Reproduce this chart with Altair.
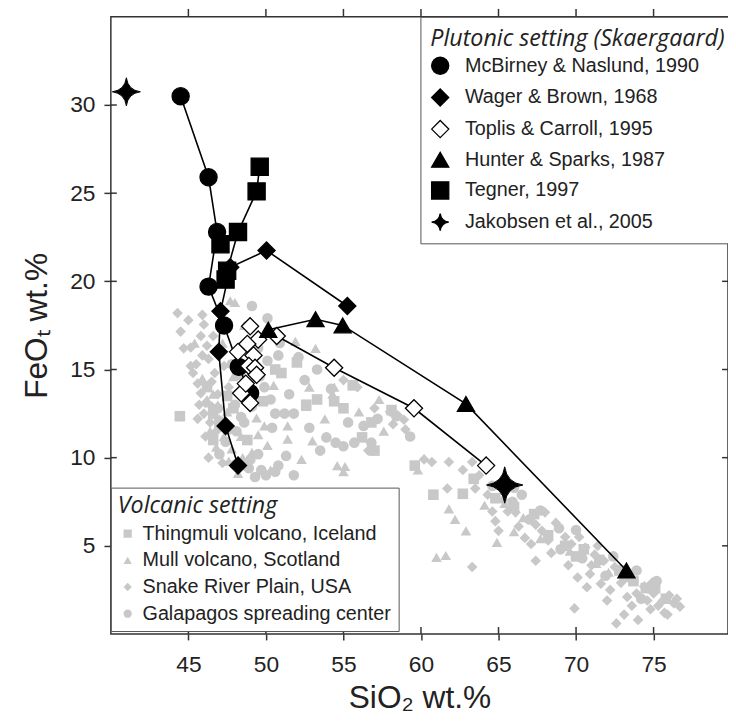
import altair as alt
import pandas as pd

GRAY = "#c8c8c8"

# ---------------- Volcanic setting (gray) ----------------
thingmuli = [(44.45, 12.35), (56.2, 11.15), (59.6, 9.55), (60.8, 7.9), (62.7, 7.95), (54.4, 13.2),
             (53.3, 13.3), (47.5, 13.5), (47.0, 12.0), (46.6, 11.0), (52.0, 15.4), (51.0, 14.8),
             (55.6, 14.1), (58.1, 12.7), (66.0, 7.2), (68.2, 5.6), (70.5, 4.8), (72.8, 3.6),
             (74.5, 2.6), (75.8, 2.0), (57.0, 10.4), (48.3, 14.7), (49.8, 13.2), (63.4, 8.8),
             (69.3, 5.0), (71.5, 4.2), (73.7, 3.0), (46.2, 14.0), (47.9, 12.8), (48.8, 11.0),
             (50.6, 15.0), (52.6, 13.0), (55.0, 12.8), (56.8, 12.0), (48.9, 14.2), (46.6, 12.5),
             (64.8, 7.7), (67.3, 6.8), (70.0, 4.4), (75.1, 2.6)]
mull = [(48.0, 18.8), (47.7, 18.9), (53.2, 16.2), (52.8, 14.0), (54.4, 14.0), (54.3, 13.6),
        (57.6, 11.5), (53.0, 10.95), (51.4, 11.05), (52.3, 9.9), (50.1, 10.7), (49.4, 12.25),
        (54.6, 9.55), (55.0, 9.2), (59.8, 9.3), (61.8, 7.1), (64.1, 7.3), (66.6, 6.6),
        (62.9, 5.85), (61.0, 4.35), (61.6, 4.45), (49.1, 10.3), (49.5, 11.3), (51.4, 11.8),
        (47.6, 9.8), (46.8, 10.6), (46.4, 11.5), (47.3, 11.2), (46.9, 13.0), (45.9, 14.5),
        (47.2, 16.5), (48.6, 17.5), (67.7, 5.4), (69.6, 4.7), (71.3, 4.0), (73.3, 3.2),
        (72.1, 3.5), (65.4, 7.4), (50.3, 9.3), (48.2, 9.1), (47.1, 11.8), (47.5, 12.6),
        (46.6, 13.6), (47.8, 10.5), (48.5, 10.0), (55.1, 9.5), (51.9, 16.6),
        (46.2, 13.3), (47.9, 14.6), (48.4, 11.2), (49.9, 11.8), (52.6, 12.9), (53.8, 12.2),
        (56.0, 12.6), (57.3, 13.3), (48.9, 16.7), (47.3, 17.7), (50.5, 14.1), (45.4, 16.5),
        (62.2, 6.5), (64.9, 5.2), (66.0, 5.8)]
snake = [(44.5, 17.15), (45.8, 16.9), (44.7, 16.2), (45.15, 16.25), (46.2, 16.35), (46.3, 15.6),
         (45.15, 15.2), (45.6, 14.2), (45.8, 13.65), (46.1, 13.1), (45.9, 18.1), (46.0, 17.55),
         (45.5, 15.3), (46.5, 12.9), (47.0, 12.15), (55.0, 14.4), (55.9, 14.0), (57.0, 12.8),
         (58.0, 12.6), (58.5, 12.4), (60.2, 9.9), (60.7, 9.75), (61.8, 9.75), (62.7, 9.3),
         (63.3, 9.75), (63.75, 9.0), (61.7, 8.25), (63.5, 8.25), (64.6, 6.95), (64.8, 6.4),
         (65.0, 5.85), (65.6, 6.95), (66.7, 5.45), (67.4, 6.2), (67.8, 5.85), (68.2, 5.3),
         (69.3, 5.5), (69.7, 5.1), (70.2, 5.5), (70.6, 4.9), (71.2, 4.5), (71.8, 4.15),
         (72.5, 3.8), (73.1, 3.25), (73.7, 3.05), (74.4, 2.7), (75.0, 2.3), (75.6, 1.9),
         (76.3, 1.75), (76.7, 1.55), (75.7, 1.2), (74.6, 1.9), (73.3, 2.1), (72.0, 1.9),
         (72.6, 0.6), (73.1, 1.1), (74.0, 0.8), (69.9, 1.45), (70.1, 3.2), (70.7, 2.65),
         (71.6, 2.85), (67.4, 4.15), (63.3, 3.8), (46.7, 14.8), (47.6, 14.0), (46.3, 10.0),
         (47.2, 9.7), (56.6, 10.4), (58.9, 12.15), (66.1, 6.9), (68.7, 6.3), (71.0, 3.9),
         (72.9, 2.9), (74.9, 2.9), (76.0, 2.2), (75.3, 1.6), (73.9, 2.3), (65.3, 7.6),
         (64.3, 7.9), (46.0, 12.5), (46.4, 12.0), (46.8, 11.5), (45.7, 13.0),
         (45.3, 14.8), (45.9, 15.8), (46.5, 14.3), (46.9, 13.6), (46.1, 11.2), (45.6, 12.2),
         (46.6, 16.9), (45.0, 17.8), (44.3, 18.2), (47.3, 15.2), (58.2, 11.9), (59.0, 11.6),
         (66.3, 6.1), (67.1, 5.1), (68.4, 4.6), (69.5, 3.9), (70.9, 3.4), (72.2, 2.5),
         (73.6, 1.6), (74.8, 1.4), (75.9, 1.1), (76.5, 2.0), (71.4, 5.0), (68.0, 6.9)]
galapagos = [(49.1, 18.6), (50.1, 17.9), (50.9, 16.5), (50.1, 15.5), (50.8, 15.8), (52.1, 15.7),
             (52.5, 14.4), (54.2, 13.9), (57.2, 12.2), (59.3, 11.2), (53.9, 11.15), (54.5, 10.85),
             (55.0, 10.65), (55.7, 10.85), (56.8, 10.85), (51.2, 12.5), (51.8, 12.5), (50.6, 12.5),
             (50.4, 11.7), (51.3, 10.1), (50.8, 9.55), (48.9, 9.4), (49.7, 9.3), (50.6, 9.2),
             (48.7, 9.55), (66.5, 7.9), (65.9, 7.5), (68.9, 6.0), (66.0, 8.3), (47.8, 15.3),
             (48.0, 13.0), (49.6, 14.6), (53.3, 15.0), (49.5, 16.2), (67.0, 6.5), (69.0, 4.8),
             (70.4, 4.3), (71.9, 3.3), (74.2, 2.0), (58.4, 12.35), (47.0, 10.2), (47.4, 10.9),
             (48.1, 11.5), (48.4, 12.3), (49.0, 9.9), (49.5, 10.2), (48.0, 9.6), (50.0, 9.0),
             (49.9, 14.0), (51.5, 13.6), (52.8, 11.7), (53.5, 10.4), (55.3, 12.0), (56.3, 11.8),
             (50.3, 13.3), (49.1, 12.9), (48.6, 12.0), (49.3, 8.9), (51.8, 9.0), (47.6, 11.6),
             (46.9, 12.8), (64.6, 8.4), (67.7, 7.0), (70.0, 5.9), (72.4, 4.4), (73.9, 3.6),
             (75.2, 3.0)]

volcanic_names = ["Thingmuli volcano, Iceland", "Mull volcano, Scotland",
                  "Snake River Plain, USA", "Galapagos spreading center"]
volcanic_sets = [thingmuli, mull, snake, galapagos]

# ---------------- Plutonic setting (Skaergaard) ----------------
mcbirney = [(44.5, 30.5), (46.3, 25.9), (46.85, 22.8), (46.3, 19.7), (47.3, 17.5), (48.25, 15.15), (48.98, 13.65)]
wager = [(48.2, 9.55), (47.4, 11.8), (46.96, 16.0), (47.07, 18.3), (47.7, 20.8), (50.04, 21.75), (55.25, 18.6)]
toplis = [(48.98, 17.45), (49.5, 16.7), (50.7, 16.9), (54.4, 15.1), (59.55, 12.8), (64.2, 9.55),
          (48.8, 16.45), (48.2, 16.0), (49.2, 15.8), (48.9, 15.2), (49.3, 15.1), (49.4, 14.7),
          (48.4, 13.65), (48.98, 13.1), (48.7, 14.2)]
toplis_line = [(50.7, 16.9), (54.4, 15.1), (59.55, 12.8), (64.2, 9.55)]
hunter = [(50.15, 17.25), (53.2, 17.85), (54.95, 17.5), (62.9, 13.05), (73.25, 3.6)]
tegner = [(49.6, 26.5), (49.4, 25.1), (48.2, 22.8), (47.07, 22.1), (47.5, 20.6), (47.4, 20.1)]
tegner_line = [(49.6, 26.5), (49.4, 25.1), (48.2, 22.8), (47.5, 20.6), (47.4, 20.1)]
jakobsen = [(41.0, 30.75), (65.4, 8.45)]

plutonic_names = ["McBirney & Naslund, 1990", "Wager & Brown, 1968", "Toplis & Carroll, 1995",
                  "Hunter & Sparks, 1987", "Tegner, 1997", "Jakobsen et al., 2005"]
STAR = "M0,-1 Q0.12,-0.12 1,0 Q0.12,0.12 0,1 Q-0.12,0.12 -1,0 Q-0.12,-0.12 0,-1 Z"
plutonic_shapes = ["circle", "diamond", "diamond", "triangle-up", "square", STAR]
plutonic_fills = ["black", "black", "white", "black", "black", "black"]
plutonic_strokes = ["black"] * 6

x_ticks = [45, 50, 55, 60, 65, 70, 75]
y_ticks = [5, 10, 15, 20, 25, 30]

# ---------------- tables ----------------
gray_df = pd.DataFrame([{"x": x, "y": y, "series": n}
                        for n, pts in zip(volcanic_names, volcanic_sets) for x, y in pts])
pts_df = pd.DataFrame([{"x": x, "y": y, "series": n}
                       for n, pts in zip(plutonic_names, [mcbirney, wager, toplis, hunter, tegner])
                       for x, y in pts])
star_df = pd.DataFrame([{"x": x, "y": y, "series": plutonic_names[5]} for x, y in jakobsen])
line_df = pd.DataFrame([{"x": x, "y": y, "series": n, "idx": i}
                        for n, pts in zip(plutonic_names, [mcbirney, wager, toplis_line, hunter, tegner_line])
                        for i, (x, y) in enumerate(pts)])
xt_df = pd.DataFrame({"x": x_ticks})
yt_df = pd.DataFrame({"y": y_ticks})

W, H = 624, 624
xscale = alt.Scale(domain=[40, 79.8], nice=False, zero=False)
yscale = alt.Scale(domain=[0, 35], nice=False, zero=False)
FONT = "Liberation Sans"
TFONT = "Open Sans"
INK = "#222222"

xaxis = alt.Axis(orient="bottom", values=x_ticks, tickSize=6, tickWidth=1.5, tickColor="#333",
                 domain=False, grid=False,
                 labelFont=FONT, labelFontSize=23, labelColor=INK, labelPadding=14, labelFlush=False,
                 title="SiO\u2082 wt.%", titleFont=FONT, titleFontSize=32, titleFontWeight="normal",
                 titleColor=INK, titlePadding=6)
yaxis = alt.Axis(orient="left", values=y_ticks, tickSize=7, tickWidth=1.5, tickColor="#333",
                 domain=False, grid=False,
                 labelFont=FONT, labelFontSize=23, labelColor=INK, labelPadding=9, labelFlush=False,
                 title="FeO\u209c wt.%", titleFont=FONT, titleFontSize=32, titleFontWeight="normal",
                 titleColor=INK, titlePadding=16)

X = alt.X("x:Q", scale=xscale, axis=xaxis)
Y = alt.Y("y:Q", scale=yscale, axis=yaxis)

vleg = alt.Legend(title="Volcanic setting", orient="none", legendX=0, legendY=476, direction="vertical",
                  titleFont=TFONT, titleFontStyle="italic", titleFontWeight="normal", titleFontSize=23.5,
                  titleColor=INK, labelFont=FONT, labelFontSize=20, labelColor=INK, symbolSize=70,
                  symbolFillColor=GRAY, symbolStrokeWidth=0, rowPadding=7.0, labelOffset=5,
                  padding=7, titlePadding=6, strokeColor="#555", fillColor="white",
                  titleLimit=400, labelLimit=400)
pleg = alt.Legend(title="Plutonic setting (Skaergaard)", orient="none", legendX=313, legendY=0,
                  direction="vertical", titleFont=TFONT, titleFontStyle="italic", titleFontWeight="normal",
                  titleFontSize=23.5, titleColor=INK, labelFont=FONT, labelFontSize=20, labelColor=INK,
                  symbolSize=300, symbolStrokeColor="black", symbolStrokeWidth=1.3, rowPadding=8,
                  labelOffset=15, padding=10, titlePadding=6, strokeColor="#555", fillColor="white",
                  titleLimit=400, labelLimit=400)

gray = alt.Chart(gray_df).mark_point(filled=True, size=115, color=GRAY, opacity=1).encode(
    x=X, y=Y,
    shape=alt.Shape("series:N", scale=alt.Scale(domain=volcanic_names,
                                                range=["square", "triangle-up", "diamond", "circle"]),
                    legend=vleg),
)

lines = alt.Chart(line_df).mark_line(color="black", strokeWidth=1.6).encode(
    x=X, y=Y, detail="series:N", order="idx:Q",
)

shape_enc = alt.Shape("series:N", scale=alt.Scale(domain=plutonic_names, range=plutonic_shapes), legend=pleg)
fill_enc = alt.Fill("series:N", scale=alt.Scale(domain=plutonic_names, range=plutonic_fills), legend=pleg)
stroke_enc = alt.Stroke("series:N", scale=alt.Scale(domain=plutonic_names, range=plutonic_strokes), legend=pleg)

pts = alt.Chart(pts_df).mark_point(filled=False, size=300, strokeWidth=1.3, opacity=1).encode(
    x=X, y=Y, shape=shape_enc, fill=fill_enc, stroke=stroke_enc,
)
star_small = alt.Chart(star_df).transform_filter(alt.datum.x < 50).mark_point(
    filled=False, size=800, strokeWidth=1, opacity=1).encode(
    x=X, y=Y, shape=shape_enc, fill=fill_enc, stroke=stroke_enc,
)
star_big = alt.Chart(star_df).transform_filter(alt.datum.x >= 50).mark_point(
    filled=False, size=1350, strokeWidth=1, opacity=1).encode(
    x=X, y=Y, shape=shape_enc, fill=fill_enc, stroke=stroke_enc,
)

plutonic = alt.layer(lines, pts, star_small, star_big)

tick_style = dict(color="#333", strokeWidth=1.5)
bx = alt.Chart(xt_df).mark_rule(**tick_style).encode(x=X, y=alt.value(H - 7), y2=alt.value(H))
tx = alt.Chart(xt_df).mark_rule(**tick_style).encode(x=X, y=alt.value(-8), y2=alt.value(0))
ly = alt.Chart(yt_df).mark_rule(**tick_style).encode(y=Y, x=alt.value(0), x2=alt.value(6))
ry = alt.Chart(yt_df).mark_rule(**tick_style).encode(y=Y, x=alt.value(W - 6), x2=alt.value(W))

chart = alt.layer(gray, plutonic, bx, tx, ly, ry).resolve_scale(
    shape="independent", fill="independent", stroke="independent"
).properties(
    width=W, height=H,
    autosize=alt.AutoSizeParams(type="none"),
    padding={"left": 104, "top": 5, "right": 0, "bottom": 81},
    background="white",
).configure_view(stroke="#333", strokeWidth=1.5)

chart.save("out.html", embed_options={"renderer": "svg", "actions": False})
